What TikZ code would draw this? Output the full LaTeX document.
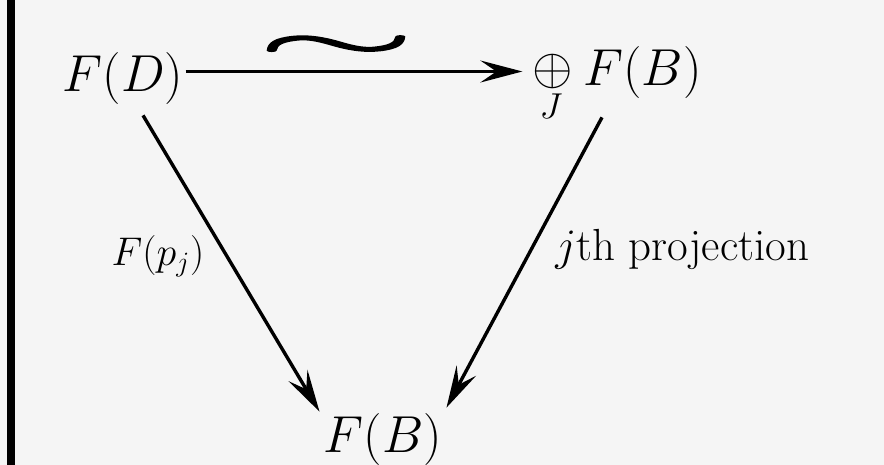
\RequirePackage{fix-cm}
\documentclass[tikz,border=0pt]{standalone}
\usepackage{fontspec}
\usepackage{graphicx}
\newfontfamily\tildefont[FakeBold=2.5]{Latin Modern Math}
\usetikzlibrary{arrows.meta,calc}
\begin{document}
\begin{tikzpicture}[x=0.5pt,y=-0.5pt,
  main/.style={inner sep=0pt, font=\fontsize{26}{30}\selectfont},
  lab/.style={inner sep=0pt, font=\fontsize{20}{24}\selectfont},
  arr/.style={line width=1.7pt, -{Stealth[length=21pt,width=11pt,inset=8pt]}}]
\fill[gray!8] (0,0) rectangle (884,465);
\useasboundingbox (0,0) rectangle (884,465);
\fill[black] (7,0) rectangle (15,465);
\node[main,anchor=base] (FD) at (123,92) {$F(D)$};
\node[main] (sum) at (553,71.5) {$\oplus$};
\node[inner sep=0pt, anchor=base, font=\fontsize{18}{20}\selectfont] (J) at (551,119) {$J$};
\node[main,anchor=base west] (FBt) at (583,86) {$F(B)$};
\node[main,anchor=base] (FB) at (383,452) {$F(B)$};
\node[inner sep=0pt] (tl) at (336,48) {\resizebox{78pt}{12pt}{\tildefont\symbol{"223C}}};
\node[lab,anchor=base] (lp) at (158,265) {$F(p_j)$};
\node[lab,anchor=base west,font=\fontsize{22.5}{26}\selectfont] (lq) at (555,260) {$j$th projection};
\draw[arr] ($(FD.east |- sum.center)+(2,0)$) -- ($(sum.west)+(-10,0)$);
\draw[arr] ($(FD.south)+(20,10)$) -- ($(FB.north west)+(-4,-1)$);
\draw[arr] ($(FBt.south west)+(19,18)$) -- ($(FB.north east)+(4,-5)$);
\end{tikzpicture}
\end{document}
